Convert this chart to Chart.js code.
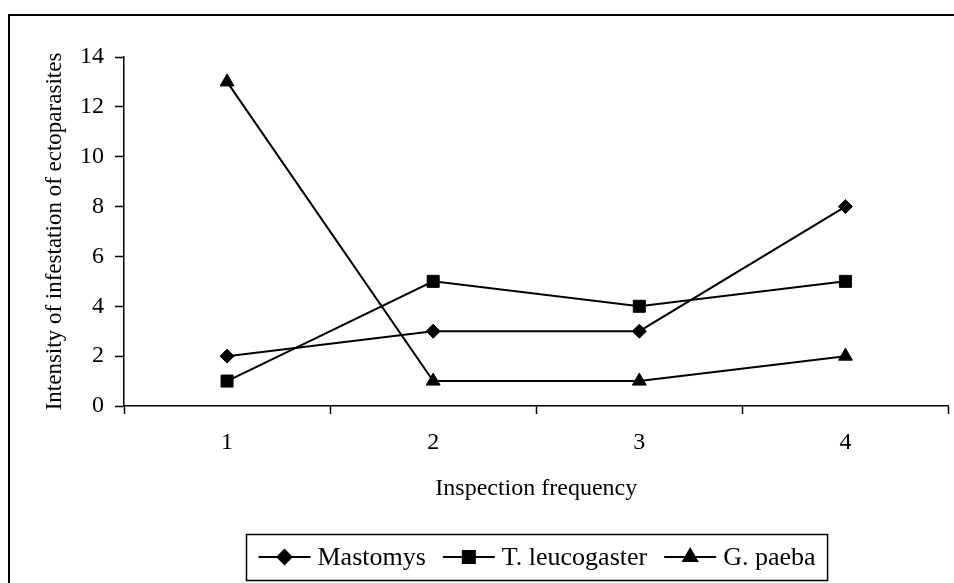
<!DOCTYPE html>
<html lang="en">

<head>
  <meta charset="UTF-8" />
  <title>Intensity of infestation</title>
  <script src="https://cdn.jsdelivr.net/npm/chart.js"></script>
  <style>
    html, body { margin: 0; padding: 0; background: #fff; overflow: hidden; }
    #wrap { position: relative; width: 954px; height: 583px; overflow: hidden; }
  </style>
</head>

<body>
  <div id="wrap">
    <!-- a few px wider than the window: Chart.js keeps a ~10px right margin we don't want -->
    <canvas id="infestChart" width="958" height="583"></canvas>
  </div>

  <script>
    // data
    const inspections = ['1', '2', '3', '4'];
    const mastomys = [2, 3, 3, 8];
    const leucogaster = [1, 5, 4, 5];
    const paeba = [13, 1, 1, 2];
    const yTicks = [0, 2, 4, 6, 8, 10, 12, 14];

    const serif = "'Liberation Serif', 'Times New Roman', serif";

    const series = [
      { label: 'Mastomys', data: mastomys, pointStyle: 'rectRot', pointRadius: 7 },
      { label: 'T. leucogaster', data: leucogaster, pointStyle: 'rect', pointRadius: 8.5 },
      { label: 'G. paeba', data: paeba, pointStyle: 'triangle', pointRadius: 8 }
    ];

    // frame round the whole figure (left and top edges only, as in the source)
    const framePlugin = {
      id: 'frame',
      afterDraw(chart) {
        const ctx = chart.ctx;
        ctx.save();
        ctx.strokeStyle = '#000';
        ctx.lineWidth = 2;
        ctx.beginPath();
        ctx.moveTo(9, 583);
        ctx.lineTo(9, 15);
        ctx.lineTo(958, 15);
        ctx.stroke();
        ctx.restore();
      }
    };

    // boxed legend with line + marker samples
    const boxLegendPlugin = {
      id: 'boxLegend',
      afterDraw(chart) {
        const ctx = chart.ctx;
        const area = chart.chartArea;
        const sample = 52, gapText = 7, gapItem = 17, pad = 12;
        ctx.save();
        ctx.font = '26px ' + serif;
        const widths = chart.data.datasets.map(d => ctx.measureText(d.label).width);
        let total = pad * 2 + gapItem * (widths.length - 1);
        widths.forEach(w => { total += sample + gapText + w; });
        const cx = (area.left + area.right) / 2;
        const top = 534, bottom = 580, cy = (top + bottom) / 2;
        let x = Math.round(cx - total / 2) + 0.5;
        ctx.strokeStyle = '#000';
        ctx.lineWidth = 1.5;
        ctx.strokeRect(x, top + 0.5, total, bottom - top);
        x += pad;
        chart.data.datasets.forEach((d, i) => {
          ctx.beginPath();
          ctx.lineWidth = 2;
          ctx.moveTo(x, cy);
          ctx.lineTo(x + sample, cy);
          ctx.stroke();
          ctx.fillStyle = '#000';
          Chart.helpers.drawPoint(ctx, {
            pointStyle: d.pointStyle, radius: d.pointRadius, rotation: 0, borderWidth: 1
          }, x + sample / 2, cy);
          x += sample + gapText;
          ctx.fillStyle = '#000';
          ctx.textBaseline = 'middle';
          ctx.textAlign = 'left';
          ctx.fillText(d.label, x, cy + 1);
          x += widths[i] + gapItem;
        });
        ctx.restore();
      }
    };

    new Chart(document.getElementById('infestChart'), {
      type: 'line',
      data: {
        labels: inspections,
        datasets: series.map(s => ({
          label: s.label,
          data: s.data,
          borderColor: '#000',
          backgroundColor: '#000',
          borderWidth: 2,
          pointStyle: s.pointStyle,
          pointRadius: s.pointRadius,
          pointBorderWidth: 1,
          pointBackgroundColor: '#000',
          pointBorderColor: '#000',
          tension: 0,
          fill: false
        }))
      },
      options: {
        responsive: false,
        animation: false,
        layout: { padding: { left: 0, top: 57, right: 0, bottom: 67 } },
        plugins: {
          legend: { display: false },
          tooltip: { enabled: false }
        },
        scales: {
          x: {
            offset: true,
            grid: {
              offset: true,
              drawOnChartArea: false,
              drawTicks: true,
              tickLength: 8,
              tickWidth: 1.5,
              tickColor: '#000'
            },
            border: { display: true, color: '#000', width: 1.5 },
            ticks: {
              color: '#000',
              padding: 14,
              maxRotation: 0,
              font: { family: serif, size: 24 }
            },
            title: {
              display: true,
              text: 'Inspection frequency',
              color: '#000',
              padding: { top: 0, bottom: 13 },
              font: { family: serif, size: 24 }
            },
            afterFit(scale) {
              scale.height = 110;
              scale.paddingLeft = 0;
              scale.paddingRight = 0;
            }
          },
          y: {
            min: 0,
            max: 14,
            afterBuildTicks(scale) { scale.ticks = yTicks.map(v => ({ value: v })); },
            grid: {
              drawOnChartArea: false,
              drawTicks: true,
              tickLength: 9,
              tickWidth: 1.5,
              tickColor: '#000'
            },
            border: { display: true, color: '#000', width: 1.5 },
            ticks: {
              color: '#000',
              padding: 11,
              font: { family: serif, size: 24 }
            },
            title: {
              display: true,
              text: 'Intensity of infestation of ectoparasites',
              color: '#000',
              padding: { top: 41, bottom: 0 },
              font: { family: serif, size: 23 }
            },
            afterFit(scale) { scale.width = 124; }
          }
        }
      },
      plugins: [framePlugin, boxLegendPlugin]
    });
  </script>
</body>

</html>
